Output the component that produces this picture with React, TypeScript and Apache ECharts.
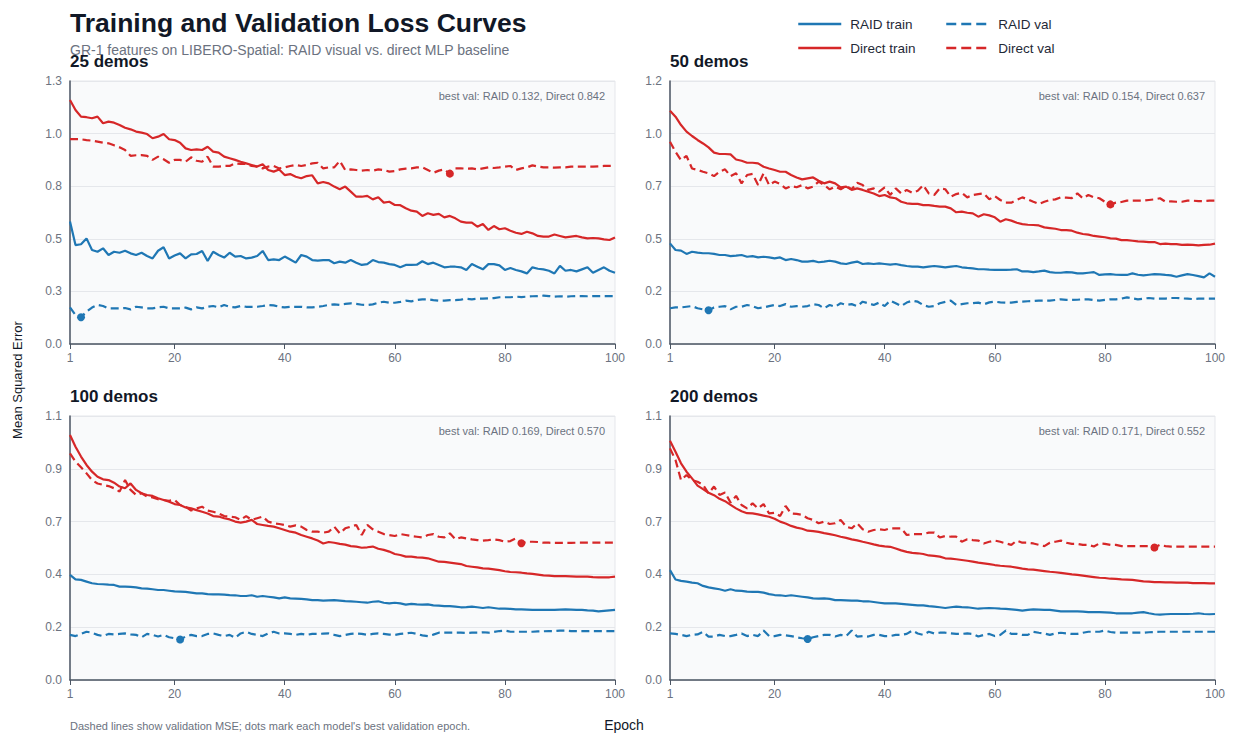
import React, { useEffect, useRef } from 'react';
import * as echarts from 'echarts';

const BLUE = '#1f77b4';
const RED = '#d62728';
const FONT = '"Liberation Sans", Arial, Helvetica, sans-serif';

const EPOCHS: number[] = Array.from({ length: 100 }, (_, i) => i + 1);
const X_TICKS = [1, 20, 40, 60, 80, 100];
const PANEL_TITLES = ['25 demos', '50 demos', '100 demos', '200 demos'];
const Y_MAX = [1.3, 1.2, 1.1, 1.1];
const SERIES_NAMES = ['RAID train', 'RAID val', 'Direct train', 'Direct val'];

// ---------- 25 demos ----------
const raidTrain25 = [
  0.605, 0.489, 0.493, 0.522, 0.465, 0.456, 0.473, 0.440, 0.456, 0.451,
  0.461, 0.448, 0.440, 0.451, 0.435, 0.423, 0.461, 0.478, 0.423, 0.437,
  0.448, 0.423, 0.443, 0.445, 0.460, 0.410, 0.456, 0.440, 0.427, 0.451,
  0.432, 0.435, 0.423, 0.427, 0.435, 0.460, 0.415, 0.418, 0.415, 0.432,
  0.418, 0.402, 0.440, 0.432, 0.415, 0.412, 0.415, 0.415, 0.399, 0.407,
  0.402, 0.415, 0.402, 0.391, 0.395, 0.415, 0.405, 0.402, 0.395, 0.391,
  0.379, 0.391, 0.391, 0.392, 0.409, 0.395, 0.402, 0.391, 0.379, 0.382,
  0.382, 0.379, 0.366, 0.395, 0.382, 0.369, 0.395, 0.395, 0.389, 0.366,
  0.376, 0.366, 0.359, 0.349, 0.379, 0.372, 0.369, 0.362, 0.349, 0.386,
  0.362, 0.366, 0.359, 0.369, 0.379, 0.352, 0.366, 0.379, 0.362, 0.352,
];
const raidVal25 = [
  0.181, 0.143, 0.132, 0.160, 0.180, 0.193, 0.188, 0.176, 0.176, 0.176,
  0.178, 0.171, 0.184, 0.181, 0.176, 0.176, 0.181, 0.184, 0.176, 0.176,
  0.176, 0.180, 0.171, 0.181, 0.176, 0.184, 0.188, 0.181, 0.193, 0.184,
  0.181, 0.188, 0.184, 0.184, 0.184, 0.188, 0.193, 0.191, 0.184, 0.181,
  0.184, 0.184, 0.184, 0.181, 0.181, 0.184, 0.188, 0.193, 0.196, 0.193,
  0.198, 0.201, 0.198, 0.194, 0.193, 0.196, 0.204, 0.209, 0.204, 0.204,
  0.208, 0.214, 0.211, 0.217, 0.221, 0.221, 0.217, 0.214, 0.214, 0.217,
  0.217, 0.219, 0.224, 0.221, 0.224, 0.224, 0.226, 0.227, 0.231, 0.231,
  0.231, 0.234, 0.232, 0.234, 0.236, 0.237, 0.239, 0.237, 0.234, 0.236,
  0.234, 0.236, 0.237, 0.237, 0.236, 0.237, 0.237, 0.237, 0.237, 0.237,
];
const directTrain25 = [
  1.206, 1.157, 1.124, 1.121, 1.116, 1.124, 1.091, 1.099, 1.094, 1.083,
  1.069, 1.061, 1.050, 1.045, 1.038, 1.017, 1.025, 1.038, 1.012, 1.008,
  0.995, 0.967, 0.959, 0.962, 0.959, 0.975, 0.951, 0.946, 0.926, 0.918,
  0.910, 0.901, 0.893, 0.885, 0.877, 0.888, 0.860, 0.852, 0.863, 0.835,
  0.840, 0.827, 0.819, 0.830, 0.834, 0.794, 0.801, 0.794, 0.778, 0.765,
  0.778, 0.753, 0.728, 0.728, 0.732, 0.715, 0.725, 0.699, 0.703, 0.687,
  0.686, 0.671, 0.659, 0.654, 0.633, 0.646, 0.638, 0.643, 0.626, 0.633,
  0.621, 0.605, 0.600, 0.600, 0.580, 0.593, 0.564, 0.583, 0.567, 0.572,
  0.560, 0.550, 0.544, 0.555, 0.547, 0.534, 0.531, 0.531, 0.541, 0.534,
  0.527, 0.531, 0.534, 0.527, 0.522, 0.524, 0.522, 0.517, 0.514, 0.527,
];
const directVal25 = [
  1.013, 1.013, 1.012, 1.008, 1.005, 1.000, 0.995, 0.992, 0.982, 0.972,
  0.959, 0.930, 0.933, 0.934, 0.930, 0.910, 0.926, 0.913, 0.896, 0.910,
  0.910, 0.901, 0.923, 0.906, 0.901, 0.926, 0.877, 0.877, 0.880, 0.880,
  0.893, 0.890, 0.890, 0.880, 0.877, 0.868, 0.877, 0.880, 0.868, 0.873,
  0.880, 0.885, 0.880, 0.885, 0.893, 0.896, 0.868, 0.873, 0.873, 0.905,
  0.860, 0.863, 0.860, 0.857, 0.860, 0.857, 0.863, 0.860, 0.852, 0.855,
  0.863, 0.867, 0.868, 0.873, 0.873, 0.860, 0.846, 0.857, 0.863, 0.842,
  0.868, 0.868, 0.867, 0.868, 0.863, 0.868, 0.873, 0.870, 0.873, 0.877,
  0.880, 0.860, 0.868, 0.873, 0.883, 0.877, 0.873, 0.873, 0.872, 0.873,
  0.873, 0.877, 0.877, 0.877, 0.877, 0.877, 0.878, 0.880, 0.880, 0.880,
];

// ---------- 50 demos ----------
const raidTrain50 = [
  0.459, 0.429, 0.426, 0.411, 0.421, 0.417, 0.414, 0.414, 0.411, 0.406,
  0.406, 0.401, 0.403, 0.406, 0.398, 0.401, 0.395, 0.398, 0.395, 0.391,
  0.395, 0.383, 0.388, 0.383, 0.376, 0.376, 0.379, 0.373, 0.376, 0.380,
  0.376, 0.368, 0.365, 0.371, 0.376, 0.365, 0.368, 0.365, 0.368, 0.365,
  0.362, 0.365, 0.360, 0.356, 0.353, 0.353, 0.350, 0.353, 0.356, 0.353,
  0.350, 0.353, 0.356, 0.350, 0.347, 0.345, 0.341, 0.341, 0.339, 0.338,
  0.338, 0.338, 0.339, 0.341, 0.331, 0.331, 0.328, 0.331, 0.335, 0.328,
  0.325, 0.325, 0.328, 0.327, 0.322, 0.322, 0.325, 0.328, 0.315, 0.318,
  0.319, 0.316, 0.315, 0.315, 0.322, 0.316, 0.313, 0.316, 0.319, 0.318,
  0.315, 0.313, 0.307, 0.313, 0.319, 0.315, 0.310, 0.304, 0.322, 0.307,
];
const raidVal50 = [
  0.163, 0.167, 0.167, 0.170, 0.173, 0.163, 0.158, 0.154, 0.167, 0.170,
  0.173, 0.158, 0.170, 0.170, 0.178, 0.173, 0.163, 0.167, 0.173, 0.178,
  0.173, 0.182, 0.170, 0.173, 0.170, 0.173, 0.182, 0.178, 0.163, 0.178,
  0.170, 0.186, 0.178, 0.182, 0.173, 0.193, 0.186, 0.178, 0.189, 0.173,
  0.198, 0.186, 0.173, 0.189, 0.198, 0.193, 0.178, 0.170, 0.173, 0.186,
  0.192, 0.198, 0.178, 0.182, 0.186, 0.186, 0.189, 0.181, 0.190, 0.193,
  0.190, 0.189, 0.189, 0.192, 0.193, 0.195, 0.196, 0.198, 0.198, 0.198,
  0.201, 0.204, 0.201, 0.201, 0.202, 0.204, 0.204, 0.201, 0.198, 0.201,
  0.204, 0.204, 0.207, 0.213, 0.208, 0.204, 0.207, 0.210, 0.207, 0.207,
  0.207, 0.210, 0.210, 0.208, 0.207, 0.205, 0.207, 0.207, 0.207, 0.207,
];
const directTrain50 = [
  1.064, 1.037, 0.999, 0.969, 0.949, 0.931, 0.915, 0.897, 0.873, 0.867,
  0.867, 0.865, 0.842, 0.836, 0.827, 0.827, 0.824, 0.809, 0.801, 0.794,
  0.786, 0.786, 0.771, 0.760, 0.751, 0.756, 0.760, 0.745, 0.733, 0.741,
  0.733, 0.715, 0.718, 0.703, 0.710, 0.703, 0.695, 0.687, 0.675, 0.680,
  0.669, 0.665, 0.649, 0.642, 0.639, 0.639, 0.634, 0.634, 0.630, 0.627,
  0.627, 0.619, 0.601, 0.604, 0.599, 0.596, 0.581, 0.592, 0.587, 0.578,
  0.558, 0.569, 0.563, 0.553, 0.547, 0.544, 0.543, 0.541, 0.532, 0.529,
  0.526, 0.520, 0.520, 0.517, 0.508, 0.502, 0.499, 0.493, 0.490, 0.487,
  0.482, 0.481, 0.474, 0.474, 0.471, 0.468, 0.467, 0.465, 0.465, 0.456,
  0.458, 0.456, 0.456, 0.452, 0.453, 0.452, 0.450, 0.452, 0.453, 0.458,
];
const directVal50 = [
  0.923, 0.877, 0.839, 0.858, 0.801, 0.794, 0.786, 0.779, 0.766, 0.786,
  0.797, 0.766, 0.779, 0.733, 0.771, 0.776, 0.725, 0.779, 0.725, 0.741,
  0.730, 0.710, 0.721, 0.715, 0.725, 0.710, 0.718, 0.741, 0.725, 0.706,
  0.718, 0.706, 0.721, 0.706, 0.736, 0.725, 0.703, 0.710, 0.695, 0.715,
  0.680, 0.710, 0.687, 0.703, 0.690, 0.699, 0.725, 0.687, 0.680, 0.710,
  0.706, 0.672, 0.684, 0.690, 0.669, 0.680, 0.684, 0.687, 0.660, 0.675,
  0.657, 0.645, 0.645, 0.657, 0.669, 0.660, 0.649, 0.639, 0.649, 0.657,
  0.660, 0.669, 0.668, 0.666, 0.687, 0.665, 0.680, 0.669, 0.665, 0.649,
  0.637, 0.645, 0.648, 0.654, 0.654, 0.654, 0.654, 0.657, 0.660, 0.665,
  0.649, 0.651, 0.649, 0.649, 0.654, 0.654, 0.652, 0.652, 0.654, 0.654,
];

// ---------- 100 demos ----------
const raidTrain100 = [
  0.438, 0.419, 0.417, 0.410, 0.403, 0.400, 0.399, 0.397, 0.396, 0.389,
  0.389, 0.388, 0.386, 0.382, 0.381, 0.378, 0.375, 0.375, 0.372, 0.369,
  0.368, 0.367, 0.364, 0.361, 0.361, 0.358, 0.357, 0.357, 0.356, 0.354,
  0.353, 0.350, 0.350, 0.353, 0.347, 0.350, 0.347, 0.344, 0.340, 0.344,
  0.340, 0.339, 0.338, 0.336, 0.333, 0.333, 0.331, 0.332, 0.333, 0.331,
  0.329, 0.328, 0.326, 0.324, 0.322, 0.326, 0.328, 0.322, 0.319, 0.322,
  0.319, 0.314, 0.317, 0.315, 0.314, 0.315, 0.311, 0.310, 0.308, 0.308,
  0.306, 0.303, 0.304, 0.306, 0.303, 0.300, 0.303, 0.300, 0.297, 0.297,
  0.296, 0.294, 0.294, 0.293, 0.292, 0.292, 0.292, 0.292, 0.292, 0.293,
  0.294, 0.293, 0.292, 0.292, 0.290, 0.289, 0.286, 0.288, 0.290, 0.292,
];
const raidVal100 = [
  0.188, 0.183, 0.192, 0.201, 0.197, 0.188, 0.183, 0.192, 0.190, 0.192,
  0.194, 0.190, 0.188, 0.178, 0.192, 0.188, 0.181, 0.188, 0.178, 0.174,
  0.169, 0.181, 0.188, 0.183, 0.183, 0.192, 0.194, 0.188, 0.183, 0.188,
  0.176, 0.194, 0.201, 0.192, 0.188, 0.183, 0.194, 0.201, 0.194, 0.194,
  0.192, 0.188, 0.192, 0.188, 0.192, 0.192, 0.193, 0.194, 0.188, 0.183,
  0.188, 0.192, 0.194, 0.192, 0.188, 0.192, 0.194, 0.192, 0.189, 0.188,
  0.192, 0.194, 0.197, 0.192, 0.186, 0.183, 0.189, 0.197, 0.197, 0.197,
  0.197, 0.197, 0.196, 0.197, 0.197, 0.199, 0.197, 0.200, 0.204, 0.206,
  0.201, 0.201, 0.201, 0.201, 0.201, 0.203, 0.203, 0.204, 0.204, 0.206,
  0.206, 0.204, 0.204, 0.204, 0.204, 0.204, 0.204, 0.204, 0.204, 0.204,
];
const directTrain100 = [
  1.021, 0.972, 0.931, 0.896, 0.868, 0.847, 0.836, 0.833, 0.822, 0.806,
  0.799, 0.819, 0.792, 0.778, 0.771, 0.767, 0.757, 0.750, 0.743, 0.733,
  0.729, 0.719, 0.715, 0.708, 0.701, 0.694, 0.683, 0.681, 0.674, 0.669,
  0.660, 0.656, 0.660, 0.667, 0.650, 0.646, 0.642, 0.639, 0.632, 0.625,
  0.618, 0.614, 0.604, 0.597, 0.590, 0.581, 0.569, 0.575, 0.572, 0.567,
  0.564, 0.558, 0.556, 0.551, 0.553, 0.556, 0.547, 0.542, 0.535, 0.525,
  0.521, 0.514, 0.514, 0.511, 0.510, 0.507, 0.500, 0.493, 0.492, 0.489,
  0.486, 0.483, 0.475, 0.472, 0.469, 0.465, 0.464, 0.461, 0.458, 0.453,
  0.450, 0.449, 0.447, 0.444, 0.442, 0.439, 0.436, 0.435, 0.433, 0.433,
  0.433, 0.432, 0.431, 0.431, 0.431, 0.429, 0.428, 0.428, 0.428, 0.431,
];
const directVal100 = [
  0.944, 0.910, 0.886, 0.861, 0.833, 0.819, 0.813, 0.808, 0.799, 0.785,
  0.833, 0.792, 0.771, 0.778, 0.764, 0.761, 0.753, 0.750, 0.747, 0.750,
  0.729, 0.722, 0.706, 0.715, 0.722, 0.706, 0.701, 0.694, 0.683, 0.681,
  0.678, 0.667, 0.683, 0.667, 0.674, 0.681, 0.660, 0.653, 0.650, 0.646,
  0.639, 0.644, 0.639, 0.625, 0.618, 0.618, 0.614, 0.618, 0.639, 0.611,
  0.632, 0.639, 0.646, 0.604, 0.646, 0.628, 0.618, 0.608, 0.604, 0.600,
  0.608, 0.604, 0.600, 0.597, 0.594, 0.604, 0.608, 0.597, 0.594, 0.611,
  0.586, 0.594, 0.590, 0.586, 0.583, 0.581, 0.583, 0.586, 0.583, 0.576,
  0.579, 0.590, 0.570, 0.576, 0.576, 0.575, 0.572, 0.572, 0.571, 0.571,
  0.571, 0.571, 0.572, 0.572, 0.572, 0.572, 0.572, 0.572, 0.572, 0.572,
];

// ---------- 200 demos ----------
const raidTrain200 = [
  0.458, 0.419, 0.413, 0.410, 0.406, 0.403, 0.392, 0.386, 0.382, 0.378,
  0.372, 0.378, 0.372, 0.371, 0.368, 0.367, 0.367, 0.364, 0.358, 0.354,
  0.353, 0.350, 0.353, 0.350, 0.347, 0.344, 0.340, 0.339, 0.340, 0.338,
  0.333, 0.333, 0.332, 0.331, 0.331, 0.328, 0.328, 0.325, 0.322, 0.319,
  0.319, 0.319, 0.317, 0.315, 0.313, 0.311, 0.311, 0.308, 0.306, 0.303,
  0.300, 0.303, 0.306, 0.304, 0.303, 0.300, 0.297, 0.299, 0.300, 0.299,
  0.297, 0.296, 0.294, 0.292, 0.289, 0.292, 0.294, 0.293, 0.292, 0.292,
  0.289, 0.286, 0.286, 0.286, 0.286, 0.285, 0.283, 0.283, 0.283, 0.282,
  0.281, 0.278, 0.278, 0.278, 0.278, 0.281, 0.283, 0.278, 0.274, 0.272,
  0.274, 0.275, 0.275, 0.275, 0.275, 0.276, 0.278, 0.275, 0.274, 0.275,
];
const raidVal200 = [
  0.194, 0.192, 0.188, 0.183, 0.188, 0.190, 0.201, 0.181, 0.181, 0.188,
  0.183, 0.183, 0.188, 0.194, 0.183, 0.188, 0.183, 0.206, 0.183, 0.183,
  0.188, 0.186, 0.183, 0.178, 0.174, 0.171, 0.178, 0.183, 0.188, 0.188,
  0.181, 0.188, 0.183, 0.206, 0.181, 0.183, 0.181, 0.188, 0.188, 0.183,
  0.183, 0.188, 0.188, 0.192, 0.206, 0.194, 0.188, 0.201, 0.194, 0.197,
  0.197, 0.194, 0.192, 0.192, 0.194, 0.192, 0.181, 0.188, 0.192, 0.183,
  0.188, 0.206, 0.192, 0.192, 0.188, 0.188, 0.201, 0.197, 0.194, 0.188,
  0.194, 0.197, 0.194, 0.192, 0.192, 0.197, 0.201, 0.201, 0.201, 0.206,
  0.200, 0.197, 0.197, 0.197, 0.197, 0.197, 0.197, 0.199, 0.200, 0.201,
  0.201, 0.201, 0.201, 0.201, 0.201, 0.201, 0.201, 0.201, 0.201, 0.201,
];
const directTrain200 = [
  0.997, 0.951, 0.903, 0.868, 0.840, 0.810, 0.795, 0.780, 0.770, 0.755,
  0.745, 0.730, 0.715, 0.703, 0.695, 0.694, 0.690, 0.685, 0.680, 0.672,
  0.660, 0.652, 0.642, 0.635, 0.630, 0.622, 0.620, 0.617, 0.612, 0.608,
  0.603, 0.597, 0.592, 0.586, 0.582, 0.576, 0.571, 0.565, 0.560, 0.557,
  0.555, 0.548, 0.540, 0.534, 0.530, 0.528, 0.525, 0.519, 0.517, 0.514,
  0.507, 0.506, 0.503, 0.500, 0.497, 0.493, 0.489, 0.486, 0.483, 0.479,
  0.476, 0.474, 0.472, 0.468, 0.464, 0.461, 0.460, 0.457, 0.454, 0.451,
  0.449, 0.446, 0.443, 0.440, 0.438, 0.435, 0.432, 0.429, 0.426, 0.425,
  0.422, 0.421, 0.419, 0.418, 0.417, 0.414, 0.411, 0.410, 0.408, 0.408,
  0.407, 0.407, 0.406, 0.406, 0.406, 0.404, 0.404, 0.404, 0.403, 0.403,
];
const directVal200 = [
  0.965, 0.917, 0.833, 0.854, 0.833, 0.826, 0.813, 0.778, 0.806, 0.771,
  0.781, 0.739, 0.767, 0.729, 0.715, 0.736, 0.715, 0.733, 0.694, 0.697,
  0.683, 0.725, 0.694, 0.692, 0.688, 0.674, 0.667, 0.653, 0.660, 0.650,
  0.653, 0.667, 0.639, 0.632, 0.653, 0.628, 0.618, 0.625, 0.628, 0.625,
  0.632, 0.632, 0.632, 0.604, 0.608, 0.608, 0.608, 0.614, 0.614, 0.594,
  0.600, 0.597, 0.597, 0.576, 0.586, 0.583, 0.581, 0.569, 0.576, 0.581,
  0.576, 0.569, 0.563, 0.581, 0.572, 0.572, 0.569, 0.563, 0.558, 0.572,
  0.576, 0.581, 0.572, 0.567, 0.567, 0.563, 0.563, 0.556, 0.569, 0.567,
  0.563, 0.563, 0.558, 0.558, 0.558, 0.558, 0.558, 0.558, 0.552, 0.563,
  0.558, 0.556, 0.556, 0.556, 0.556, 0.556, 0.556, 0.556, 0.556, 0.556,
];

const PANEL_DATA = [
  [raidTrain25, raidVal25, directTrain25, directVal25],
  [raidTrain50, raidVal50, directTrain50, directVal50],
  [raidTrain100, raidVal100, directTrain100, directVal100],
  [raidTrain200, raidVal200, directTrain200, directVal200],
];

const GRID_BOXES = [
  { left: 70, top: 81, width: 545, height: 263 },
  { left: 670, top: 81, width: 545, height: 263 },
  { left: 70, top: 416, width: 545, height: 264 },
  { left: 670, top: 416, width: 545, height: 264 },
];

function bestOf(arr: number[]) {
  let bi = 0;
  for (let i = 1; i < arr.length; i++) if (arr[i] < arr[bi]) bi = i;
  return { epoch: EPOCHS[bi], value: arr[bi] };
}

function buildOption() {
  const grid: any[] = [];
  const xAxis: any[] = [];
  const yAxis: any[] = [];
  const series: any[] = [];
  const graphic: any[] = [];

  PANEL_DATA.forEach((arrs, i) => {
    const box = GRID_BOXES[i];
    grid.push({
      ...box,
      show: true,
      backgroundColor: '#f9fafb',
      borderColor: '#e5e7eb',
      borderWidth: 1,
      containLabel: false,
    });
    xAxis.push({
      gridIndex: i,
      type: 'value',
      min: 1,
      max: 100,
      axisLine: { show: true, onZero: false, lineStyle: { color: '#4b5563', width: 1.5 } },
      axisTick: { show: true, length: 5, customValues: X_TICKS, lineStyle: { color: '#4b5563' } },
      axisLabel: { customValues: X_TICKS, color: '#6b7280', fontSize: 12, margin: 8, fontFamily: FONT },
      splitLine: { show: false },
    });
    const yMax = Y_MAX[i];
    yAxis.push({
      gridIndex: i,
      type: 'value',
      min: 0,
      max: yMax,
      interval: yMax / 5,
      axisLine: { show: true, lineStyle: { color: '#4b5563', width: 1.5 } },
      axisTick: { show: false },
      axisLabel: {
        color: '#6b7280',
        fontSize: 12,
        margin: 8,
        fontFamily: FONT,
        formatter: (v: number) => v.toFixed(1),
      },
      splitLine: { show: true, lineStyle: { color: '#e5e7eb', width: 1 } },
    });

    arrs.forEach((arr, k) => {
      const isVal = k % 2 === 1;
      const color = k < 2 ? BLUE : RED;
      const s: any = {
        name: SERIES_NAMES[k],
        type: 'line',
        xAxisIndex: i,
        yAxisIndex: i,
        data: arr.map((v, j) => [EPOCHS[j], v]),
        symbol: 'none',
        showSymbol: false,
        smooth: false,
        itemStyle: { color },
        lineStyle: { color, width: 2.2, type: isVal ? [8, 4.5] : 'solid' },
        z: k < 2 ? 3 : 4,
        silent: true,
      };
      if (isVal) {
        const b = bestOf(arr);
        s.markPoint = {
          symbol: 'circle',
          symbolSize: 8,
          silent: true,
          label: { show: false },
          itemStyle: { color },
          data: [{ coord: [b.epoch, b.value] }],
        };
      }
      series.push(s);
    });

    const bR = bestOf(arrs[1]);
    const bD = bestOf(arrs[3]);
    graphic.push({
      type: 'text',
      x: box.left + box.width - 10,
      y: box.top + 15,
      style: {
        text: `best val: RAID ${bR.value.toFixed(3)}, Direct ${bD.value.toFixed(3)}`,
        fill: '#6b7280',
        font: `11px ${FONT}`,
        align: 'right',
        verticalAlign: 'middle',
      },
    });
    graphic.push({
      type: 'text',
      x: box.left,
      y: box.top - 20,
      style: {
        text: PANEL_TITLES[i],
        fill: '#111827',
        font: `bold 17px ${FONT}`,
        align: 'left',
        verticalAlign: 'middle',
      },
    });
  });

  graphic.push(
    {
      type: 'text',
      x: 70,
      y: 23,
      style: {
        text: 'Training and Validation Loss Curves',
        fill: '#111827',
        font: `bold 26.5px ${FONT}`,
        align: 'left',
        verticalAlign: 'middle',
      },
    },
    {
      type: 'text',
      x: 70,
      y: 50,
      style: {
        text: 'GR-1 features on LIBERO-Spatial: RAID visual vs. direct MLP baseline',
        fill: '#6b7280',
        font: `14px ${FONT}`,
        align: 'left',
        verticalAlign: 'middle',
      },
    },
    {
      type: 'text',
      x: 17,
      y: 380,
      rotation: Math.PI / 2,
      style: {
        text: 'Mean Squared Error',
        fill: '#111827',
        font: `13px ${FONT}`,
        align: 'center',
        verticalAlign: 'middle',
      },
    },
    {
      type: 'text',
      x: 624,
      y: 725,
      style: {
        text: 'Epoch',
        fill: '#111827',
        font: `14px ${FONT}`,
        align: 'center',
        verticalAlign: 'middle',
      },
    },
    {
      type: 'text',
      x: 70,
      y: 726,
      style: {
        text: "Dashed lines show validation MSE; dots mark each model's best validation epoch.",
        fill: '#6b7280',
        font: `11px ${FONT}`,
        align: 'left',
        verticalAlign: 'middle',
      },
    }
  );

  const legendCommon = {
    orient: 'vertical',
    top: 11,
    itemWidth: 43,
    itemHeight: 2,
    itemGap: 8,
    selectedMode: false,
    textStyle: { fontSize: 13.5, color: '#1f2937', fontFamily: FONT, lineHeight: 16, padding: [0, 0, 0, 4] },
  };

  return {
    animation: false,
    backgroundColor: '#ffffff',
    textStyle: { fontFamily: FONT },
    legend: [
      { ...legendCommon, left: 792, data: ['RAID train', 'Direct train'], lineStyle: { width: 2.5, type: 'solid' } },
      { ...legendCommon, left: 940, data: ['RAID val', 'Direct val'], lineStyle: { width: 2.5, type: [10, 5] } },
    ],
    grid,
    xAxis,
    yAxis,
    series,
    graphic,
  };
}

export default function App() {
  const ref = useRef<HTMLDivElement>(null);
  useEffect(() => {
    if (!ref.current) return;
    const chart = echarts.init(ref.current, undefined, { renderer: 'svg' });
    chart.setOption(buildOption() as any);
    return () => chart.dispose();
  }, []);
  return (
    <div
      ref={ref}
      style={{ position: 'fixed', left: 0, top: 0, width: 1233, height: 733, background: '#fff' }}
    />
  );
}
